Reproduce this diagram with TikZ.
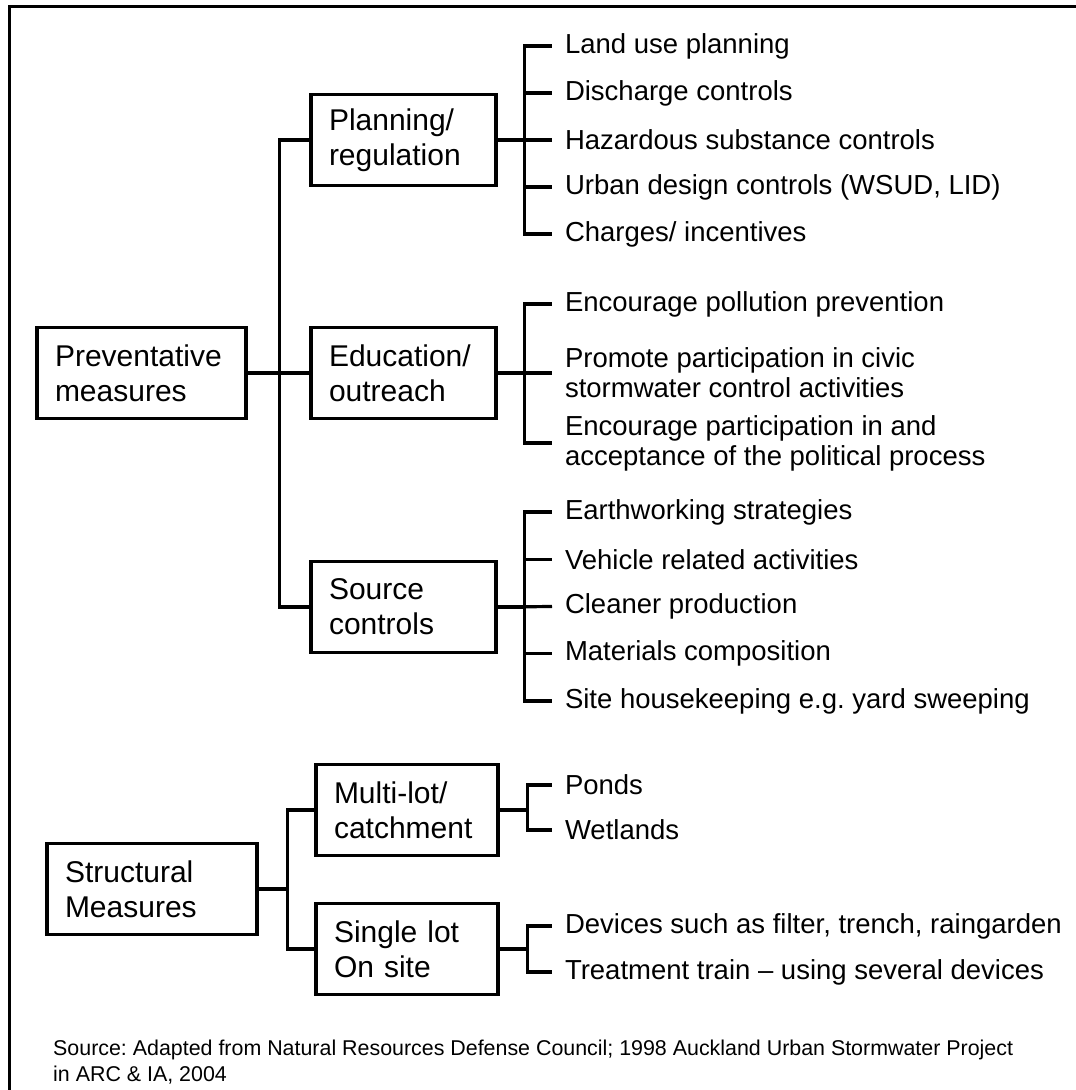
\documentclass[tikz,border=0pt]{standalone}
\usepackage{fontspec}
\setmainfont{Liberation Sans}
\usetikzlibrary{positioning}
\frenchspacing

\begin{document}
\begin{tikzpicture}[x=1pt, y=-1pt, on grid,
    box/.style={draw, line width=3.2pt, text width=#1, inner xsep=18pt, inner ysep=0pt,
                minimum height=91pt, align=left, font=\fontsize{30}{35}\selectfont},
    box/.default=149pt,
    item/.style={anchor=west, inner xsep=13pt, inner ysep=0pt, outer sep=0pt, align=left,
                 font=\fontsize{27.5}{30}\selectfont},
    link/.style={line width=3.2pt}
  ]
  \useasboundingbox (0,0) rectangle (1076,1090);
  % frame, open at the bottom and right
  \draw[line width=3.5pt] (9.5,1090) -- (9.5,6.7) -- (1076,6.7);

  % preventative measures
  \node[box=173pt] (prev) at (141.5,373) {Preventative\\measures};
  \node[box, right=262pt of prev] (edu) {Education/\\outreach};
  \node[box, above=233pt of edu] (plan) {Planning/\\regulation};
  \node[box, below=234pt of edu] (src) {Source\\controls};

  \node[item] (p1) at (552,46) {Land use planning};
  \node[item, below=47pt of p1.west, anchor=west] (p2) {Discharge controls};
  \node[item, below=47pt of p2.west, anchor=west] (p3) {Hazardous substance controls};
  \node[item, below=47pt of p3.west, anchor=west] (p4) {Urban design controls (WSUD, LID)};
  \node[item, below=47pt of p4.west, anchor=west] (p5) {Charges/ incentives};

  \node[item] (e1) at (552,304) {Encourage pollution prevention};
  \node[item, below=69pt of e1.west, anchor=west] (e2) {Promote participation in civic\\stormwater control activities};
  \node[item, below=70pt of e2.west, anchor=west] (e3) {Encourage participation in and\\acceptance of the political process};

  \node[item] (c1) at (552,512) {Earthworking strategies};
  \node[item, below=47.25pt of c1.west, anchor=west] (c2) {Vehicle related activities};
  \node[item, below=47.25pt of c2.west, anchor=west] (c3) {Cleaner production};
  \node[item, below=47.25pt of c3.west, anchor=west] (c4) {Materials composition};
  \node[item, below=47.25pt of c4.west, anchor=west] (c5) {Site housekeeping e.g. yard sweeping};

  \draw[link] (prev.east) -- ++(32pt,0) |- (plan.west);
  \draw[link] (prev.east) -- (edu.west);
  \draw[link] (prev.east) -- ++(32pt,0) |- (src.west);

  \draw[link] (plan.east) -- ++(27pt,0) |- (p1.west);
  \draw[link] (plan.east) -- ++(27pt,0) |- (p2.west);
  \draw[link] (plan.east) -- (p3.west);
  \draw[link] (plan.east) -- ++(27pt,0) |- (p4.west);
  \draw[link] (plan.east) -- ++(27pt,0) |- (p5.west);

  \draw[link] (edu.east) -- ++(27pt,0) |- (e1.west);
  \draw[link] (edu.east) -- (e2.west);
  \draw[link] (edu.east) -- ++(27pt,0) |- (e3.west);

  \draw[link] (src.east) -- ++(27pt,0) |- (c1.west);
  \draw[link] (src.east) -- ++(27pt,0) |- (c2.west);
  \draw[link] (src.east) -- (c3.west);
  \draw[link] (src.east) -- ++(27pt,0) |- (c4.west);
  \draw[link] (src.east) -- ++(27pt,0) |- (c5.west);

  % structural measures
  \node[box=174pt] (struc) at (152,889) {Structural\\Measures};
  \node[box=146pt, above right=79pt and 255pt of struc] (multi) {Multi-lot/\\catchment};
  \node[box=146pt, below right=60pt and 255pt of struc] (single) {Single lot\\On site};

  \node[item] (m1) at (552,785) {Ponds};
  \node[item, below=45pt of m1.west, anchor=west] (m2) {Wetlands};
  \node[item] (s1) at (552,926) {Devices such as filter, trench, raingarden};
  \node[item, below=46pt of s1.west, anchor=west] (s2) {Treatment train -- using several devices};

  \draw[link] (struc.east) -- ++(29pt,0) |- (multi.west);
  \draw[link] (struc.east) -- ++(29pt,0) |- (single.west);
  \draw[link] (multi.east) -- ++(28pt,0) |- (m1.west);
  \draw[link] (multi.east) -- ++(28pt,0) |- (m2.west);
  \draw[link] (single.east) -- ++(28pt,0) |- (s1.west);
  \draw[link] (single.east) -- ++(28pt,0) |- (s2.west);

  \node[anchor=west, inner sep=0pt, align=left, font=\fontsize{21.4}{26}\selectfont] (note) at (53,1062)
    {Source: Adapted from Natural Resources Defense Council; 1998 Auckland Urban Stormwater Project\\in ARC \& IA, 2004};
\end{tikzpicture}
\end{document}
